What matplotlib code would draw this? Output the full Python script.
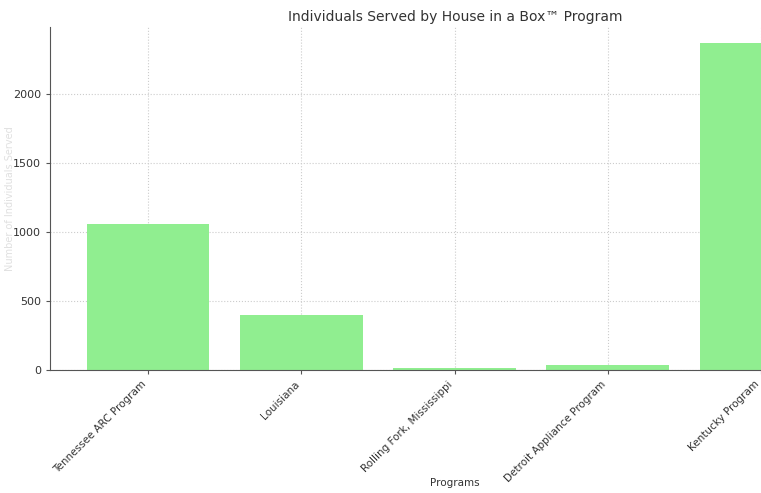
import matplotlib.pyplot as plt

programas = ['Tennessee ARC Program', 'Louisiana', 'Rolling Fork, Mississippi',
             'Detroit Appliance Program', 'Kentucky Program']
personas = [1058, 400, 12, 36, 2370]

fig = plt.figure(figsize=(7.61, 4.93), dpi=100)
ax = fig.add_axes([50/761, 123/493, 1 - 50/761, (370-27)/493])

x = list(range(len(programas)))
ax.bar(x, personas, width=0.8, color='#90EE90', zorder=2)
ax.set_xticks(x)
ax.set_xticklabels(programas, rotation=45, ha='right', fontsize=7.5, color='#333333')
ax.tick_params(axis='y', labelsize=8, labelcolor='#333333')
ax.tick_params(length=3, color='#555555')
ax.set_xlim(-0.64, 4.0)
ax.set_ylim(0, 2486)

# el eje original era mas ancho, el titulo queda desplazado a la derecha
ax.set_title('Individuals Served by House in a Box\u2122 Program', fontsize=10,
             color='#333333', x=0.57, pad=4)
ax.set_xlabel('Programs', fontsize=7.5, color='#333333')
ax.xaxis.set_label_coords(0.57, -0.315)
ax.set_ylabel('Number of Individuals Served', fontsize=7, color='#e0e0e0')
ax.yaxis.set_label_coords(-0.049, 0.5)

ax.grid(True, linestyle=':', color='#cccccc', linewidth=0.8, zorder=0)
ax.set_axisbelow(True)
for s in ['top', 'right']:
    ax.spines[s].set_visible(False)
for s in ['left', 'bottom']:
    ax.spines[s].set_color('#555555')

fig.savefig('out.png', dpi=100)
